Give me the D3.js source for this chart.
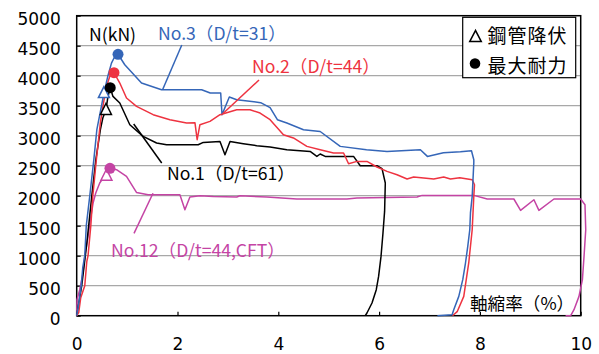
<!DOCTYPE html>
<html><head><meta charset="utf-8">
<script src="https://cdn.jsdelivr.net/npm/d3@7"></script>
<style>body{margin:0;background:#fff}svg{display:block}</style>
</head><body>
<svg id="c" width="599" height="354"></svg>
<script>
// ---- data (axial shortening ratio %, axial load kN) ----
const xTicks = [0, 2, 4, 6, 8, 10];
const yTicks = [0, 500, 1000, 1500, 2000, 2500, 3000, 3500, 4000, 4500, 5000];

const seriesNames = ["No.1（D/t=61）", "No.2（D/t=44）", "No.3（D/t=31）", "No.12（D/t=44,CFT）"];

const x1 = [0,0.1,0.2,0.3,0.38,0.47,0.52,0.58,0.62,0.665,0.72,0.855,1.054,1.318,1.585,1.783,2.41,2.511,2.843,2.942,3.042,3.306,3.572,3.837,4.169,4.632,4.765,4.831,4.93,5.493,5.626,5.958,6.058,6.123,6.109,6.077,6.038,5.99,5.944,5.859,5.759,5.726];
const y1 = [0,500,1200,2000,2600,3100,3300,3428,3650,3800,3655,3545,3183,2988,2878,2850,2850,2888,2905,2683,2905,2867,2833,2812,2767,2738,2655,2695,2655,2655,2500,2500,2450,2212,1738,1378,988,655,433,212,45,0];

const x2 = [0,0.04,0.08,0.16,0.2,0.225,0.28,0.32,0.39,0.47,0.52,0.59,0.656,0.74,0.855,0.988,1.187,1.517,1.849,2.181,2.346,2.39,2.445,2.644,2.843,3.175,3.439,3.638,3.837,4.102,4.300,4.567,4.831,5.096,5.295,5.394,5.560,5.759,5.958,6.157,6.356,6.555,6.686,7.084,7.282,7.416,7.6,7.847,7.893,7.879,7.847,7.779,7.680,7.549,7.455];
const y2 = [0,50,300,500,900,1000,1500,2000,2600,3217,3488,3822,3988,4050,3878,3628,3488,3350,3267,3212,3217,2933,3183,3239,3350,3433,3433,3378,3267,3017,2962,2822,2767,2712,2712,2533,2572,2572,2478,2405,2350,2278,2312,2278,2312,2278,2300,2267,2183,1988,1433,883,322,67,0];

const x3 = [0,0.04,0.09,0.12,0.16,0.19,0.26,0.34,0.40,0.49,0.54,0.62,0.69,0.755,0.82,0.954,1.286,1.684,2.479,2.65,2.857,2.883,3.028,3.175,3.65,3.837,3.982,4.17,4.50,4.831,5.229,5.75,6.157,6.819,6.958,7.276,7.614,7.833,7.879,7.879,7.847,7.813,7.799,7.759,7.714,7.660,7.581,7.481,7.449,7.157];
const y3 = [0,200,500,800,1000,1500,2000,2600,3100,3490,3710,4000,4210,4320,4357,4183,3878,3767,3767,3712,3712,3350,3645,3600,3550,3467,3267,3212,3100,3070,2822,2767,2738,2767,2655,2717,2733,2750,2600,2550,1988,1717,1433,1155,878,600,322,100,17,0];

const x12 = [0,0.006,0.06,0.125,0.16,0.225,0.272,0.325,0.378,0.457,0.523,0.59,0.66,0.79,0.988,1.186,1.417,1.517,2.048,2.147,2.246,2.445,2.71,3.175,3.24,3.77,4.368,5.361,5.56,6.753,6.853,7.879,8.145,8.674,8.807,9.072,9.171,9.469,10.0,10.085,10.1,10.066,10.034,9.966,9.867,9.801,9.70];
const y12 = [0,267,433,712,988,1322,1600,1878,2045,2212,2295,2332,2457,2433,2322,2055,2017,2017,2017,1767,1978,2000,1988,1978,2000,1978,1945,1945,1962,1978,2005,2005,1945,1945,1755,1933,1755,1945,1945,1850,1433,988,600,322,100,0,0];

// yield (triangle) and max (circle) points: [x, y]
const yieldPts = [[0.58,3428],[0.54,3710],[0.59,2332]];   // No.1, No.3, No.12
const yieldSeries = [0, 2, 3];
const maxPts = [[0.665,3800],[0.74,4050],[0.82,4357],[0.66,2457]]; // No.1, No.2, No.3, No.12

// leader lines [x0,y0,x1,y1] in data units
const leaders = [[1.131,3195,1.687,2545],[3.617,3928,2.871,3345],[2.085,4512,1.706,3770],[1.137,1373,1.514,2040]];

const legendLabels = ["鋼管降伏", "最大耐力"];

// ---- drawing ----
const colors = ["#000000", "#ee3340", "#3566b8", "#c444a4"];
const svg = d3.select("#c");
const X = d3.scaleLinear().domain([0, 10]).range([76.7, 580.7]);
const Y = d3.scaleLinear().domain([0, 5000]).range([315.7, 15.7]);

// gridlines
svg.append("g").selectAll("line").data(yTicks.filter(v => v > 0 && v < 5000)).join("line")
  .attr("x1", X(0)).attr("x2", X(10)).attr("y1", d => Y(d)).attr("y2", d => Y(d))
  .attr("stroke", "#a8a8a8").attr("stroke-width", 1.2);

// frame
svg.append("rect").attr("x", X(0)).attr("y", Y(5000)).attr("width", X(10) - X(0)).attr("height", Y(0) - Y(5000))
  .attr("fill", "none").attr("stroke", "#000").attr("stroke-width", 1.5);

const tickFont = "'DejaVu Sans', sans-serif";
const yAxis = svg.append("g").attr("transform", `translate(${X(0)},0)`)
  .call(d3.axisLeft(Y).tickValues(yTicks).tickFormat(d3.format("d")).tickSizeInner(-4).tickSizeOuter(0).tickPadding(16));
yAxis.select(".domain").remove();
yAxis.selectAll("text").attr("font-family", tickFont).attr("font-size", 17).attr("fill", "#000").attr("dy", "0.5em");
yAxis.selectAll("line").attr("stroke", "#000").attr("stroke-width", 1.2);

const xAxis = svg.append("g").attr("transform", `translate(0,${Y(0)})`)
  .call(d3.axisBottom(X).tickValues(xTicks).tickFormat(d3.format("d")).tickSizeInner(-4).tickSizeOuter(0).tickPadding(22));
xAxis.select(".domain").remove();
xAxis.selectAll("text").attr("font-family", tickFont).attr("font-size", 17).attr("fill", "#000");
xAxis.selectAll("line").attr("stroke", "#000").attr("stroke-width", 1.2);

// curves
const xs = [x1, x2, x3, x12], ys = [y1, y2, y3, y12];
const line = d3.line().x(d => X(d[0])).y(d => Y(d[1]));
const order = [3, 0, 1, 2];
order.forEach(i => {
  const pts = xs[i].map((v, k) => [v, ys[i][k]]);
  svg.append("path").attr("d", line(pts)).attr("fill", "none")
    .attr("stroke", colors[i]).attr("stroke-width", 1.5).attr("stroke-linejoin", "round");
});

// leader lines
const leaderColors = [colors[0], colors[1], colors[2], colors[3]];
svg.append("g").selectAll("line").data(leaders).join("line")
  .attr("x1", d => X(d[0])).attr("y1", d => Y(d[1])).attr("x2", d => X(d[2])).attr("y2", d => Y(d[3]))
  .attr("stroke", (d, i) => leaderColors[i]).attr("stroke-width", 1.5);

// markers
const tri = (cx, cy) => `M${cx},${cy - 6.5}L${cx - 5.5},${cy + 4.5}L${cx + 5.5},${cy + 4.5}Z`;
svg.append("g").selectAll("path").data(yieldPts).join("path")
  .attr("d", d => tri(X(d[0]), Y(d[1]))).attr("fill", "#fff")
  .attr("stroke", (d, i) => colors[yieldSeries[i]]).attr("stroke-width", 1.5);
svg.append("g").selectAll("circle").data(maxPts).join("circle")
  .attr("cx", d => X(d[0])).attr("cy", d => Y(d[1])).attr("r", 5.5)
  .attr("fill", (d, i) => colors[i]);

// labels
const jf = "'Noto Sans CJK JP', 'Noto Sans', sans-serif";
const labels = [
  {t: "N(kN)", x: 89, y: 41, c: "#000"},
  {t: seriesNames[2], x: 158, y: 40, c: colors[2]},
  {t: seriesNames[1], x: 252, y: 73, c: colors[1]},
  {t: seriesNames[0], x: 167, y: 180, c: colors[0]},
  {t: seriesNames[3], x: 111, y: 257, c: colors[3]},
  {t: "軸縮率（%）", x: 470, y: 310, c: "#000"}
];
svg.append("g").selectAll("text").data(labels).join("text")
  .attr("x", d => d.x).attr("y", d => d.y).attr("fill", d => d.c)
  .attr("font-family", jf).attr("font-size", 17.6).text(d => d.t);

// legend
const lg = svg.append("g");
lg.append("rect").attr("x", 462.7).attr("y", 17.3).attr("width", 113).attr("height", 60.4)
  .attr("fill", "#fff").attr("stroke", "#000").attr("stroke-width", 1.2);
lg.append("path").attr("d", `M475.5,30.5L469.8,41.5L481.2,41.5Z`).attr("fill", "none").attr("stroke", "#000").attr("stroke-width", 1.6);
lg.append("circle").attr("cx", 475).attr("cy", 63.5).attr("r", 5.3).attr("fill", "#000");
lg.selectAll("text").data(legendLabels).join("text")
  .attr("x", 487.5).attr("y", (d, i) => 43 + i * 29.5)
  .attr("font-family", jf).attr("font-size", 19).attr("letter-spacing", 1).attr("fill", "#000").text(d => d);
</script>
</body></html>
